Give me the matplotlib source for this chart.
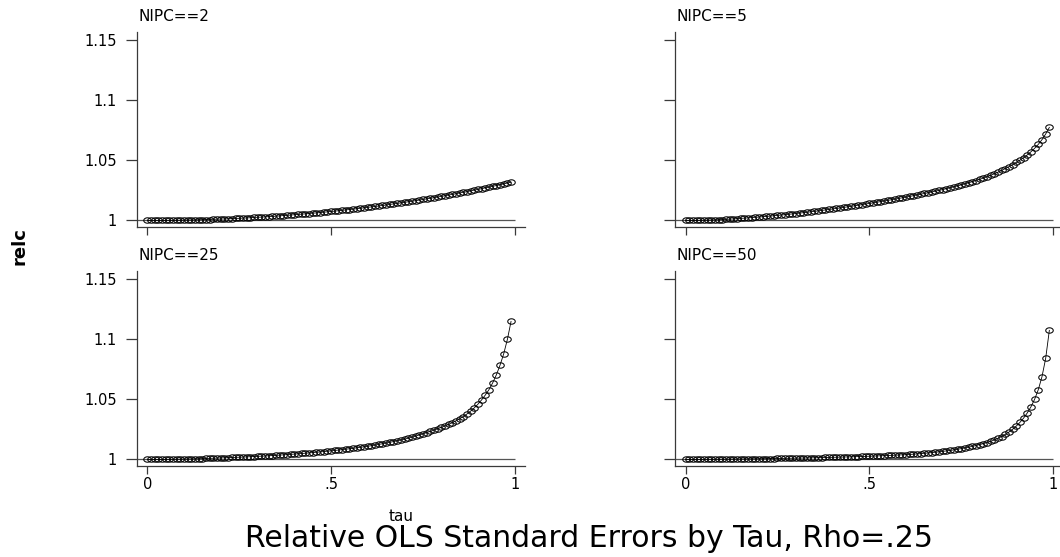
import matplotlib
matplotlib.use("Agg")
import matplotlib.pyplot as plt
from matplotlib.path import Path
import numpy as np

plt.rcParams['font.family'] = ['DejaVu Sans']

tau = [0.00, 0.01, 0.02, 0.03, 0.04, 0.05, 0.06, 0.07, 0.08, 0.09,
       0.10, 0.11, 0.12, 0.13, 0.14, 0.15, 0.16, 0.17, 0.18, 0.19,
       0.20, 0.21, 0.22, 0.23, 0.24, 0.25, 0.26, 0.27, 0.28, 0.29,
       0.30, 0.31, 0.32, 0.33, 0.34, 0.35, 0.36, 0.37, 0.38, 0.39,
       0.40, 0.41, 0.42, 0.43, 0.44, 0.45, 0.46, 0.47, 0.48, 0.49,
       0.50, 0.51, 0.52, 0.53, 0.54, 0.55, 0.56, 0.57, 0.58, 0.59,
       0.60, 0.61, 0.62, 0.63, 0.64, 0.65, 0.66, 0.67, 0.68, 0.69,
       0.70, 0.71, 0.72, 0.73, 0.74, 0.75, 0.76, 0.77, 0.78, 0.79,
       0.80, 0.81, 0.82, 0.83, 0.84, 0.85, 0.86, 0.87, 0.88, 0.89,
       0.90, 0.91, 0.92, 0.93, 0.94, 0.95, 0.96, 0.97, 0.98, 0.99]

relc_nipc2 = [1.0000, 1.0000, 1.0000, 1.0000, 1.0000, 1.0001, 1.0001, 1.0001, 1.0002, 1.0002,
              1.0003, 1.0004, 1.0004, 1.0005, 1.0006, 1.0007, 1.0008, 1.0008, 1.0010, 1.0011,
              1.0012, 1.0013, 1.0014, 1.0016, 1.0017, 1.0018, 1.0020, 1.0021, 1.0023, 1.0025,
              1.0027, 1.0028, 1.0030, 1.0032, 1.0034, 1.0036, 1.0038, 1.0041, 1.0043, 1.0045,
              1.0048, 1.0050, 1.0053, 1.0055, 1.0058, 1.0061, 1.0063, 1.0066, 1.0069, 1.0072,
              1.0075, 1.0078, 1.0081, 1.0085, 1.0088, 1.0091, 1.0095, 1.0098, 1.0102, 1.0106,
              1.0110, 1.0113, 1.0117, 1.0121, 1.0125, 1.0129, 1.0134, 1.0138, 1.0142, 1.0147,
              1.0151, 1.0156, 1.0161, 1.0165, 1.0170, 1.0175, 1.0180, 1.0185, 1.0190, 1.0195,
              1.0201, 1.0206, 1.0212, 1.0217, 1.0223, 1.0229, 1.0235, 1.0240, 1.0247, 1.0253,
              1.0259, 1.0265, 1.0272, 1.0278, 1.0285, 1.0291, 1.0298, 1.0305, 1.0312, 1.0319]

relc_nipc5 = [1.00000, 1.00001, 1.00003, 1.00007, 1.00013, 1.00020, 1.00029, 1.00039, 1.00051, 1.00065,
              1.00080, 1.00097, 1.00115, 1.00134, 1.00154, 1.00175, 1.00196, 1.00218, 1.00241, 1.00265,
              1.00290, 1.00315, 1.00341, 1.00368, 1.00396, 1.00425, 1.00454, 1.00484, 1.00515, 1.00547,
              1.00580, 1.00614, 1.00649, 1.00685, 1.00722, 1.00760, 1.00798, 1.00837, 1.00877, 1.00918,
              1.00960, 1.01002, 1.01045, 1.01089, 1.01134, 1.01180, 1.01226, 1.01273, 1.01321, 1.01370,
              1.01420, 1.01469, 1.01519, 1.01570, 1.01622, 1.01675, 1.01728, 1.01782, 1.01837, 1.01893,
              1.01950, 1.02008, 1.02067, 1.02127, 1.02188, 1.02250, 1.02313, 1.02378, 1.02444, 1.02511,
              1.02580, 1.02651, 1.02725, 1.02802, 1.02882, 1.02965, 1.03051, 1.03140, 1.03232, 1.03327,
              1.03425, 1.03527, 1.03638, 1.03757, 1.03885, 1.04021, 1.04166, 1.04320, 1.04483, 1.04654,
              1.04834, 1.05024, 1.05234, 1.05464, 1.05724, 1.06014, 1.06344, 1.06734, 1.07204, 1.07754]

relc_nipc25 = [1.00000, 1.00000, 1.00001, 1.00003, 1.00005, 1.00008, 1.00012, 1.00016, 1.00021, 1.00026,
               1.00033, 1.00039, 1.00047, 1.00055, 1.00064, 1.00073, 1.00083, 1.00094, 1.00105, 1.00117,
               1.00130, 1.00141, 1.00152, 1.00164, 1.00176, 1.00189, 1.00202, 1.00216, 1.00230, 1.00245,
               1.00260, 1.00275, 1.00291, 1.00308, 1.00326, 1.00345, 1.00364, 1.00384, 1.00405, 1.00427,
               1.00450, 1.00473, 1.00497, 1.00522, 1.00548, 1.00575, 1.00602, 1.00630, 1.00659, 1.00689,
               1.00720, 1.00752, 1.00785, 1.00820, 1.00856, 1.00894, 1.00933, 1.00973, 1.01014, 1.01057,
               1.01100, 1.01150, 1.01202, 1.01256, 1.01312, 1.01370, 1.01430, 1.01492, 1.01556, 1.01622,
               1.01690, 1.01770, 1.01855, 1.01945, 1.02038, 1.02135, 1.02235, 1.02338, 1.02444, 1.02554,
               1.02670, 1.02790, 1.02920, 1.03060, 1.03220, 1.03390, 1.03580, 1.03790, 1.04030, 1.04300,
               1.04610, 1.04970, 1.05370, 1.05820, 1.06380, 1.07050, 1.07850, 1.08800, 1.10000, 1.11500]

relc_nipc50 = [1.00000, 1.00001, 1.00002, 1.00004, 1.00006, 1.00008, 1.00011, 1.00014, 1.00017, 1.00020,
               1.00023, 1.00026, 1.00030, 1.00033, 1.00037, 1.00040, 1.00044, 1.00048, 1.00052, 1.00056,
               1.00060, 1.00064, 1.00069, 1.00073, 1.00078, 1.00083, 1.00088, 1.00093, 1.00099, 1.00104,
               1.00110, 1.00116, 1.00122, 1.00129, 1.00135, 1.00142, 1.00149, 1.00156, 1.00164, 1.00172,
               1.00180, 1.00188, 1.00196, 1.00204, 1.00213, 1.00221, 1.00230, 1.00240, 1.00250, 1.00260,
               1.00270, 1.00281, 1.00293, 1.00305, 1.00318, 1.00331, 1.00345, 1.00359, 1.00373, 1.00387,
               1.00400, 1.00420, 1.00442, 1.00465, 1.00490, 1.00516, 1.00544, 1.00574, 1.00606, 1.00640,
               1.00677, 1.00714, 1.00753, 1.00799, 1.00849, 1.00903, 1.00961, 1.01023, 1.01090, 1.01162,
               1.01240, 1.01317, 1.01405, 1.01506, 1.01622, 1.01755, 1.01908, 1.02083, 1.02284, 1.02515,
               1.02780, 1.03090, 1.03450, 1.03880, 1.04390, 1.05020, 1.05820, 1.06900, 1.08420, 1.10760]

panel_titles = ["NIPC==2", "NIPC==5", "NIPC==25", "NIPC==50"]
panel_series = [relc_nipc2, relc_nipc5, relc_nipc25, relc_nipc50]
x_ticks = [0, 0.5, 1]
x_ticklabels = ["0", ".5", "1"]
y_ticks = [1, 1.05, 1.1, 1.15]
y_ticklabels = ["1", "1.05", "1.1", "1.15"]

# hollow, slightly flattened circle marker (as in the Stata output)
_theta = np.linspace(0, 2 * np.pi, 41)
ellipse_marker = Path(np.column_stack([np.cos(_theta), 0.72 * np.sin(_theta)]), closed=True)

W, H = 1060, 557
fig = plt.figure(figsize=(W / 100, H / 100), dpi=100)

spine_col = '#3a3a3a'
ax_w = 388.3
ax_h = 195.0
positions = [(136.7, 31.7), (675.0, 31.7), (136.7, 270.7), (675.0, 270.7)]

for i, (px, py) in enumerate(positions):
    ax = fig.add_axes([px / W, 1 - (py + ax_h) / H, ax_w / W, ax_h / H])
    ax.set_xlim(-0.029, 1.028)
    ax.set_ylim(0.9948, 1.1573)
    for s in ['top', 'right']:
        ax.spines[s].set_visible(False)
    for s in ['left', 'bottom']:
        ax.spines[s].set_color(spine_col)
        ax.spines[s].set_linewidth(0.9)
    ax.hlines(1.0, -0.029, 1.0, color='#555555', lw=0.9, zorder=1)
    ax.plot(tau, panel_series[i], color='black', lw=0.6, marker=ellipse_marker,
            mfc='none', mec='black', ms=5.4, mew=0.75, zorder=3, clip_on=False)
    ax.set_xticks(x_ticks)
    ax.set_yticks(y_ticks)
    row, col = divmod(i, 2)
    if row == 1:
        ax.set_xticklabels(x_ticklabels)
    else:
        ax.set_xticklabels([])
    if col == 0:
        ax.set_yticklabels(y_ticklabels)
    else:
        ax.set_yticklabels([])
    ax.tick_params(axis='y', direction='out', length=7.7, width=0.9,
                   color=spine_col, pad=6.5, labelsize=10.5)
    ax.tick_params(axis='x', direction='out', length=6, width=0.9,
                   color=spine_col, pad=2, labelsize=10.5)
    ax.text(0.004, 1 + 10.5 / ax_h, panel_titles[i], transform=ax.transAxes,
            ha='left', va='baseline', fontsize=11)

fig.text(20 / W, 1 - 246 / H, "relc", rotation=90, ha='center', va='center',
         fontsize=13, fontweight='bold')
fig.text(401 / W, 1 - 521 / H, "tau", ha='center', va='baseline', fontsize=11)
fig.text(589 / W, 1 - 547 / H, "Relative OLS Standard Errors by Tau, Rho=.25",
         ha='center', va='baseline', fontsize=21.5)

fig.savefig("out.png", dpi=100)
